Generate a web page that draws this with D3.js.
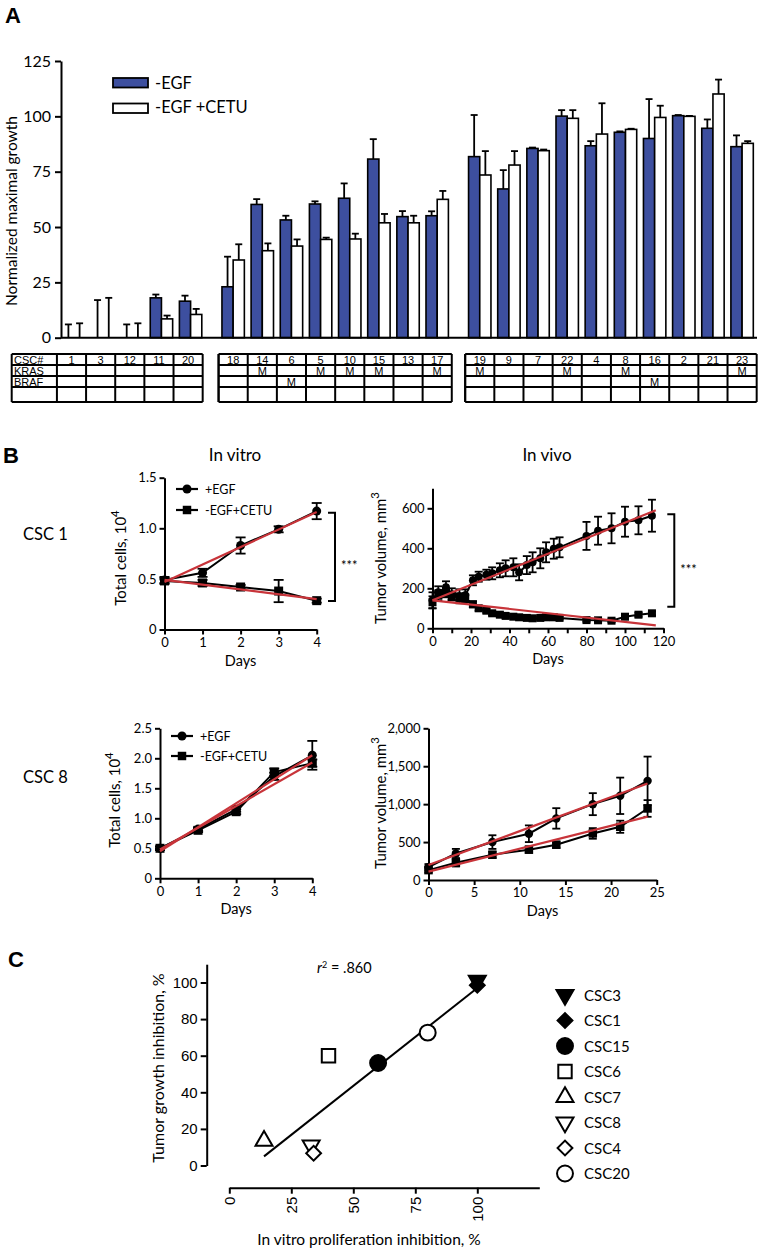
<!DOCTYPE html>
<html><head><meta charset="utf-8">
<script src="https://cdn.jsdelivr.net/npm/d3@7"></script>
<style>
html,body{margin:0;padding:0;background:#fff;overflow:hidden}
svg{display:block}
</style></head><body>
<svg id="chart" width="762" height="1251"></svg>
<script>
// ---------------- Panel A data ----------------
const cscIds = ["1","3","12","11","20","18","14","6","5","10","15","13","17","19","9","7","22","4","8","16","2","21","23"];
const cscGroups = [0,0,0,0,0,1,1,1,1,1,1,1,1,2,2,2,2,2,2,2,2,2,2];
const egfGrowth = [0,0,0,18,16.5,23,60.2,53.2,60.4,63,80.7,54.7,55.1,81.8,67.2,85.5,100.1,86.7,92.8,90,100.3,94.6,86.3];
const egfGrowthErr = [6,17,6,1.5,2.5,13.6,2.4,1.9,1.2,6.7,9,2.5,2,18.8,8.5,0.4,2.7,2.1,0.4,17.8,0.3,4,5.1];
const cetuGrowth = [0,0,0,8.5,10.5,35.1,39.3,41.4,44.4,44.6,51.9,51.9,62.5,73.5,78,84.5,99.1,92,94.1,99.5,100,110.1,87.8];
const cetuGrowthErr = [6.5,18,6.5,1.5,2.5,7.1,3.3,3,0.8,2.4,4,3.2,3.8,10.8,6.3,0.5,3.7,13.9,0.3,5.3,0.2,6.5,1];
const krasStatus = ["","","","","","","M","","M","M","M","","M","M","","","M","","M","","","","M"];
const brafStatus = ["","","","","","","","M","","","","","","","","","","","","M","","",""];
const growthTicks = [0,25,50,75,100,125];
const legendA = ["-EGF","-EGF +CETU"];
const tableRowLabels = ["CSC#","KRAS","BRAF"];

// ---------------- Panel B data ----------------
const vitroDays = [0,1,2,3,4];
const csc1VitroEgf = [0.49,0.56,0.83,0.99,1.17];
const csc1VitroEgfErr = [0.03,0.04,0.08,0.03,0.08];
const csc1VitroCetu = [0.48,0.46,0.42,0.38,0.285];
const csc1VitroCetuErr = [0.03,0.03,0.02,0.11,0.02];
const csc1VitroFitEgf = [0.47,1.16];
const csc1VitroFitCetu = [0.49,0.30];

const csc1VivoDays = [0,3,7,10,14,17,21,24,28,31,35,38,42,45,49,52,56,59,63,66,80,86,93,100,107,114];
const csc1VivoEgf = [140,180,205,170,160,165,240,258,268,275,290,300,305,280,316,330,350,380,398,405,462,488,500,533,540,563];
const csc1VivoEgfErr = [40,30,30,30,35,30,25,25,25,30,35,40,45,40,45,50,50,50,50,50,70,70,75,75,70,80];
const csc1VivoCetu = [130,165,175,160,155,150,120,100,88,75,68,62,58,55,52,50,52,55,55,52,41,40,38,58,68,75];
const csc1VivoCetuErr = [30,25,20,20,20,20,15,12,10,10,10,10,8,8,8,8,8,8,8,8,8,8,8,10,10,10];
const csc1VivoFitDays = [0,116];
const csc1VivoFitEgf = [140,590];
const csc1VivoFitCetu = [140,15];

const csc8VitroEgf = [0.5,0.82,1.15,1.7,2.05];
const csc8VitroEgfErr = [0.03,0.03,0.04,0.06,0.24];
const csc8VitroCetu = [0.5,0.8,1.11,1.77,1.92];
const csc8VitroCetuErr = [0.03,0.03,0.04,0.06,0.06];
const csc8VitroFitEgf = [0.45,2.05];
const csc8VitroFitCetu = [0.48,1.93];

const csc8VivoDays = [0,3,7,11,14,18,21,24];
const csc8VivoEgf = [170,350,500,610,812,1000,1110,1307];
const csc8VivoEgfErr = [40,60,90,110,135,145,240,320];
const csc8VivoCetu = [130,228,333,400,465,614,702,943];
const csc8VivoCetuErr = [30,50,40,40,40,70,80,110];
const csc8VivoFitDays = [0,24];
const csc8VivoFitEgf = [197,1272];
const csc8VivoFitCetu = [110,835];
const legendB = ["+EGF","-EGF+CETU"];

// ---------------- Panel C data ----------------
const scatterNames = ["CSC3","CSC1","CSC15","CSC6","CSC7","CSC8","CSC4","CSC20"];
const prolifInhibition = [100,100,60,40,14,33,34,80];
const tumorInhibition = [101,98.5,56,60,13.5,11,6.7,72.6];
const scatterShapes = ["tridown","diamond","circle","square","triup","tridown","diamond","circle"];
const scatterFilled = [true,true,true,false,false,false,false,false];
const regressionX = [14,100];
const regressionY = [5,97];
const cYTicks = [0,20,40,60,80,100];
const cXTicks = [0,25,50,75,100];

// ---------------- helpers ----------------
const CAL = "Lato, 'Open Sans', sans-serif";
const ARI = "'Liberation Sans', Arial, sans-serif";
const BLUE = "#3d4f9f";
const RED = "#c8343a";
const svg = d3.select("#chart");

function styleAxis(ax, size, family){
  ax.attr("font-family", null).attr("font-size", null);
  ax.select(".domain").attr("stroke","#000").attr("stroke-width",2);
  ax.selectAll(".tick line").attr("stroke","#000").attr("stroke-width",2);
  ax.selectAll(".tick text").attr("fill","#000").style("font-family",family).style("font-size",size+"px");
}
function txt(g, x, y, s, size, opts={}){
  return g.append("text").attr("x",x).attr("y",y).text(s)
    .style("font-family",opts.family||CAL).style("font-size",size+"px")
    .style("font-weight",opts.weight||"normal").attr("text-anchor",opts.anchor||"start").attr("fill","#000");
}
function rotLabel(g, x, y, main, sup, size){
  const t = g.append("text").attr("transform",`translate(${x},${y}) rotate(-90)`).attr("text-anchor","middle")
    .style("font-family",CAL).style("font-size",size+"px").attr("fill","#000");
  t.append("tspan").text(main);
  if(sup) t.append("tspan").text(sup).attr("dy",-size*0.45).style("font-size",(size*0.75)+"px");
  return t;
}

// ---------------- Panel A ----------------
const gA = svg.append("g");
txt(gA, 5, 23, "A", 22, {family:ARI, weight:"bold"});
const slotPos = cscIds.map((d,i)=> i + cscGroups[i]*0.46);
const xA = d3.scaleLinear().domain([0,22.92]).range([74,742.1]);
const yA = d3.scaleLinear().domain([0,125]).range([337.7,61]);
const barW = 11.2;
const idx = d3.range(cscIds.length);

gA.selectAll(".bE").data(idx).join("rect")
  .attr("x",i=>xA(slotPos[i])-barW).attr("y",i=>yA(egfGrowth[i]))
  .attr("width",barW).attr("height",i=>yA(0)-yA(egfGrowth[i]))
  .attr("fill",BLUE).attr("stroke","#000").attr("stroke-width",1.6);
gA.selectAll(".bC").data(idx).join("rect")
  .attr("x",i=>xA(slotPos[i])).attr("y",i=>yA(cetuGrowth[i]))
  .attr("width",barW).attr("height",i=>yA(0)-yA(cetuGrowth[i]))
  .attr("fill","#fff").attr("stroke","#000").attr("stroke-width",1.6);

function errA(vals, errs, off){
  const g = gA.append("g").attr("stroke","#000").attr("stroke-width",1.8);
  g.selectAll(".v").data(idx).join("line")
    .attr("x1",i=>xA(slotPos[i])+off).attr("x2",i=>xA(slotPos[i])+off)
    .attr("y1",i=>yA(vals[i])).attr("y2",i=>yA(vals[i]+errs[i]));
  g.selectAll(".c").data(idx).join("line")
    .attr("x1",i=>xA(slotPos[i])+off-3.5).attr("x2",i=>xA(slotPos[i])+off+3.5)
    .attr("y1",i=>yA(vals[i]+errs[i])).attr("y2",i=>yA(vals[i]+errs[i]));
}
errA(egfGrowth, egfGrowthErr, -barW/2);
errA(cetuGrowth, cetuGrowthErr, barW/2);

const axA = gA.append("g").attr("transform","translate(61,0)")
  .call(d3.axisLeft(yA).tickValues(growthTicks).tickSize(6).tickSizeOuter(0).tickPadding(4));
styleAxis(axA, 16, CAL);
gA.append("line").attr("x1",61).attr("x2",757).attr("y1",yA(0)).attr("y2",yA(0)).attr("stroke","#000").attr("stroke-width",2);
rotLabel(gA, 17, 211, "Normalized maximal growth", null, 15.5);

// legend A
[BLUE,"#fff"].forEach((c,i)=>{
  gA.append("rect").attr("x",113).attr("y",78+i*25.5).attr("width",35).attr("height",9.5)
    .attr("fill",c).attr("stroke","#000").attr("stroke-width",1.8);
  txt(gA, 155, 88.5+i*24.5, legendA[i], 16.5);
});

// table
const rowEdges = [354,365,376,387,402];
const colW = 29.15;
const gT = gA.append("g");
[0,1,2].forEach(gr=>{
  const ids = idx.filter(i=>cscGroups[i]===gr);
  const shift = gr===0 ? -2.5 : 0;
  const cx = i => xA(slotPos[i]) + shift;
  const left = cx(ids[0]) - colW/2, right = cx(ids[ids.length-1]) + colW/2;
  const outerLeft = gr===0 ? 11.7 : left;
  rowEdges.forEach(y=> gT.append("line").attr("x1",outerLeft).attr("x2",right).attr("y1",y).attr("y2",y).attr("stroke","#000").attr("stroke-width",2));
  const vx = [outerLeft].concat(ids.map(i=>cx(i)-colW/2)).concat([right]);
  vx.forEach(x=> gT.append("line").attr("x1",x).attr("x2",x).attr("y1",rowEdges[0]).attr("y2",rowEdges[4]).attr("stroke","#000").attr("stroke-width",2));
  ids.forEach(i=>{
    txt(gT, cx(i), rowEdges[1]-1.5, cscIds[i], 11, {family:ARI, anchor:"middle"});
    if(krasStatus[i]) txt(gT, cx(i), rowEdges[2]-1.5, krasStatus[i], 11, {family:ARI, anchor:"middle"});
    if(brafStatus[i]) txt(gT, cx(i), rowEdges[3]-1.5, brafStatus[i], 11, {family:ARI, anchor:"middle"});
  });
  if(gr===0) tableRowLabels.forEach((l,r)=> txt(gT, 14, rowEdges[r+1]-1.5, l, 11, {family:ARI}));
});

// ---------------- Panel B ----------------
const gB = svg.append("g");
txt(gB, 3, 463, "B", 22, {family:ARI, weight:"bold"});
txt(gB, 235, 461, "In vitro", 17, {anchor:"middle"});
txt(gB, 547, 461, "In vivo", 17, {anchor:"middle"});
txt(gB, 23, 540, "CSC 1", 16.5);
txt(gB, 23, 783, "CSC 8", 16.5);

function linePanel(cfg){
  const g = gB.append("g");
  const x = d3.scaleLinear().domain(cfg.xDomain).range(cfg.xRange);
  const y = d3.scaleLinear().domain(cfg.yDomain).range(cfg.yRange);
  const ay = g.append("g").attr("transform",`translate(${cfg.xRange[0]},0)`)
    .call(d3.axisLeft(y).tickValues(cfg.yTicks).tickFormat(cfg.yFmt).tickSize(5).tickSizeOuter(0).tickPadding(3));
  styleAxis(ay, 13, CAL);
  const ax = g.append("g").attr("transform",`translate(0,${cfg.yRange[0]})`)
    .call(d3.axisBottom(x).tickValues(cfg.xTicks).tickFormat(cfg.xFmt).tickSize(5).tickSizeOuter(0).tickPadding(3));
  styleAxis(ax, 13, CAL);
  txt(g, (cfg.xRange[0]+cfg.xRange[1])/2, cfg.yRange[0]+36, "Days", 14.5, {anchor:"middle"});
  rotLabel(g, cfg.yLabelX, cfg.yLabelY, cfg.yLabel, cfg.yLabelSup, 15);
  cfg.series.forEach(s=>{
    const ii = d3.range(s.vals.length);
    g.append("path").datum(ii).attr("d", d3.line().x(i=>x(s.days[i])).y(i=>y(s.vals[i])))
      .attr("fill","none").attr("stroke","#000").attr("stroke-width",2);
    const eg = g.append("g").attr("stroke","#000").attr("stroke-width",1.8);
    const hi = i=> y(s.vals[i]+s.errs[i]), lo = i=> y(Math.max(0,s.vals[i]-s.errs[i]));
    eg.selectAll(".v").data(ii).join("line").attr("x1",i=>x(s.days[i])).attr("x2",i=>x(s.days[i])).attr("y1",hi).attr("y2",lo);
    eg.selectAll(".h").data(ii).join("line").attr("x1",i=>x(s.days[i])-cfg.cap/2).attr("x2",i=>x(s.days[i])+cfg.cap/2).attr("y1",hi).attr("y2",hi);
    eg.selectAll(".l").data(ii).join("line").attr("x1",i=>x(s.days[i])-cfg.cap/2).attr("x2",i=>x(s.days[i])+cfg.cap/2).attr("y1",lo).attr("y2",lo);
    const sym = d3.symbol(s.shape==="circle"?d3.symbolCircle:d3.symbolSquare, s.shape==="circle"?cfg.mCircle:cfg.mSquare);
    g.selectAll(".m").data(ii).join("path").attr("transform",i=>`translate(${x(s.days[i])},${y(s.vals[i])})`)
      .attr("d",sym()).attr("fill","#000");
  });
  cfg.fits.forEach(f=>{
    g.append("path").datum([0,1]).attr("d", d3.line().x(i=>x(f.days[i])).y(i=>y(f.vals[i])))
      .attr("fill","none").attr("stroke",RED).attr("stroke-width",2.2);
  });
  if(cfg.legend){
    const L = cfg.legend;
    ["circle","square"].forEach((sh,k)=>{
      const yy = L.y + k*L.dy;
      g.append("line").attr("x1",L.x).attr("x2",L.x+22).attr("y1",yy).attr("y2",yy).attr("stroke","#000").attr("stroke-width",2.2);
      g.append("path").attr("transform",`translate(${L.x+11},${yy})`)
        .attr("d",d3.symbol(sh==="circle"?d3.symbolCircle:d3.symbolSquare, sh==="circle"?64:72)()).attr("fill","#000");
      txt(g, L.x+29, yy+5, legendB[k], 12.5);
    });
  }
  if(cfg.bracket){
    const B = cfg.bracket;
    g.append("path").attr("d",`M${B.x-7},${B.y1}H${B.x}V${B.y2}H${B.x-7}`).attr("fill","none").attr("stroke","#000").attr("stroke-width",2);
    txt(g, B.x+6, (B.y1+B.y2)/2+13, "***", 13);
  }
  return g;
}
const vitroFmt = d=> d===0 ? "0" : d3.format(".1f")(d);

linePanel({xDomain:[0,4], xRange:[164.5,316.7], yDomain:[0,1.5], yRange:[629.5,477.7],
  yTicks:[0,0.5,1,1.5], yFmt:vitroFmt, xTicks:vitroDays, xFmt:d3.format("d"),
  yLabel:"Total cells, 10", yLabelSup:"4", yLabelX:126, yLabelY:558,
  cap:10, mCircle:64, mSquare:81,
  series:[{days:vitroDays, vals:csc1VitroEgf, errs:csc1VitroEgfErr, shape:"circle"},
          {days:vitroDays, vals:csc1VitroCetu, errs:csc1VitroCetuErr, shape:"square"}],
  fits:[{days:[0,4], vals:csc1VitroFitEgf},{days:[0,4], vals:csc1VitroFitCetu}],
  legend:{x:176, y:489, dy:21}, bracket:{x:335, y1:512.7, y2:601}});

linePanel({xDomain:[0,120], xRange:[432.5,663.5], yDomain:[0,700], yRange:[628.3,488.3],
  yTicks:[0,200,400,600], yFmt:d3.format("d"), xTicks:d3.range(0,121,10), xFmt:d=> d%20===0? d : "",
  yLabel:"Tumor volume, mm", yLabelSup:"3", yLabelX:386, yLabelY:558,
  cap:8, mCircle:50, mSquare:64,
  series:[{days:csc1VivoDays, vals:csc1VivoEgf, errs:csc1VivoEgfErr, shape:"circle"},
          {days:csc1VivoDays, vals:csc1VivoCetu, errs:csc1VivoCetuErr, shape:"square"}],
  fits:[{days:csc1VivoFitDays, vals:csc1VivoFitEgf},{days:csc1VivoFitDays, vals:csc1VivoFitCetu}],
  bracket:{x:674.3, y1:514.3, y2:606.7}});

linePanel({xDomain:[0,4], xRange:[160,312.3], yDomain:[0,2.5], yRange:[878.3,728.3],
  yTicks:[0,0.5,1,1.5,2,2.5], yFmt:vitroFmt, xTicks:vitroDays, xFmt:d3.format("d"),
  yLabel:"Total cells, 10", yLabelSup:"4", yLabelX:120, yLabelY:800,
  cap:10, mCircle:64, mSquare:81,
  series:[{days:vitroDays, vals:csc8VitroEgf, errs:csc8VitroEgfErr, shape:"circle"},
          {days:vitroDays, vals:csc8VitroCetu, errs:csc8VitroCetuErr, shape:"square"}],
  fits:[{days:[0,4], vals:csc8VitroFitEgf},{days:[0,4], vals:csc8VitroFitCetu}],
  legend:{x:171, y:736, dy:20}});

linePanel({xDomain:[0,25], xRange:[428.5,656.7], yDomain:[0,2000], yRange:[880,728.3],
  yTicks:[0,500,1000,1500,2000], yFmt:d3.format(","), xTicks:[0,5,10,15,20,25], xFmt:d3.format("d"),
  yLabel:"Tumor volume, mm", yLabelSup:"3", yLabelX:386, yLabelY:803,
  cap:8, mCircle:56, mSquare:72,
  series:[{days:csc8VivoDays, vals:csc8VivoEgf, errs:csc8VivoEgfErr, shape:"circle"},
          {days:csc8VivoDays, vals:csc8VivoCetu, errs:csc8VivoCetuErr, shape:"square"}],
  fits:[{days:csc8VivoFitDays, vals:csc8VivoFitEgf},{days:csc8VivoFitDays, vals:csc8VivoFitCetu}]});

// ---------------- Panel C ----------------
const gC = svg.append("g");
txt(gC, 8, 967, "C", 22, {family:ARI, weight:"bold"});
const xC = d3.scaleLinear().domain([0,125]).range([229.3,539.3]);
const yC = d3.scaleLinear().domain([0,110]).range([1165.5,964.2]);
const ayC = gC.append("g").attr("transform","translate(206.7,0)")
  .call(d3.axisLeft(yC).tickValues(cYTicks).tickSize(6).tickSizeOuter(0).tickPadding(3));
styleAxis(ayC, 15, ARI);
const axC = gC.append("g").attr("transform","translate(0,1187.7)")
  .call(d3.axisBottom(xC).tickValues(cXTicks).tickSize(6).tickSizeOuter(0));
styleAxis(axC, 15, ARI);
axC.selectAll(".tick text").attr("transform","rotate(-90)").attr("text-anchor","end").attr("x",-9).attr("y",0).attr("dy","0.35em");
rotLabel(gC, 164, 1068, "Tumor growth inhibition, %", null, 16);
txt(gC, 369, 1245, "In vitro proliferation inhibition, %", 15.5, {anchor:"middle"});
const r2 = gC.append("text").attr("x",317).attr("y",973).style("font-family",CAL).style("font-size","14.5px").attr("fill","#000");
r2.append("tspan").text("r").style("font-style","italic");
r2.append("tspan").text("2").attr("dy",-5).style("font-size","9px");
r2.append("tspan").text(" = .860").attr("dy",5);

gC.append("path").datum([0,1]).attr("d", d3.line().x(i=>xC(regressionX[i])).y(i=>yC(regressionY[i])))
  .attr("stroke","#000").attr("stroke-width",2).attr("fill","none");

function shapePath(s){
  if(s==="circle") return {d:d3.symbol(d3.symbolCircle,200)(), rot:0};
  if(s==="square") return {d:d3.symbol(d3.symbolSquare,180)(), rot:0};
  if(s==="diamond") return {d:d3.symbol(d3.symbolSquare,110)(), rot:45};
  if(s==="triup") return {d:d3.symbol(d3.symbolTriangle,125)(), rot:0};
  return {d:d3.symbol(d3.symbolTriangle,125)(), rot:180};
}
const sIdx = d3.range(scatterNames.length);
gC.selectAll(".pt").data(sIdx).join("path")
  .attr("transform",i=>`translate(${xC(prolifInhibition[i])},${yC(tumorInhibition[i])}) rotate(${shapePath(scatterShapes[i]).rot})`)
  .attr("d",i=>shapePath(scatterShapes[i]).d)
  .attr("fill",i=>scatterFilled[i]?"#000":"#fff").attr("stroke","#000").attr("stroke-width",2);

// legend C
const legY = d3.scaleLinear().domain([0,7]).range([995,1173.5]);
gC.selectAll(".lg").data(sIdx).join("path")
  .attr("transform",i=>`translate(565,${legY(i)}) rotate(${shapePath(scatterShapes[i]).rot})`)
  .attr("d",i=>shapePath(scatterShapes[i]).d)
  .attr("fill",i=>scatterFilled[i]?"#000":"#fff").attr("stroke","#000").attr("stroke-width",2);
sIdx.forEach(i=> txt(gC, 584, legY(i)+5.5, scatterNames[i], 15));
</script>
</body></html>
